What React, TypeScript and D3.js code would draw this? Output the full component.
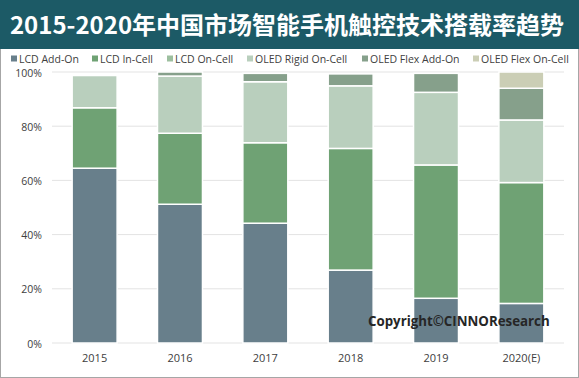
import React from "react";
import * as d3 from "d3";

const title = "2015-2020年中国市场智能手机触控技术搭载率趋势";
const years = ["2015", "2016", "2017", "2018", "2019", "2020(E)"];
const seriesNames = ["LCD Add-On", "LCD In-Cell", "LCD On-Cell", "OLED Rigid On-Cell", "OLED Flex Add-On", "OLED Flex On-Cell"];
const lcdAddOn = [64.5, 51.2, 44.2, 26.9, 16.5, 14.6];
const lcdInCell = [22.3, 26.2, 29.7, 44.9, 49.2, 44.6];
const lcdOnCell = [0, 0, 0, 0, 0, 0];
const oledRigid = [11.9, 21.1, 22.5, 23.1, 26.8, 23.1];
const oledFlexAddOn = [0, 1.5, 3.1, 4.4, 7.0, 11.7];
const oledFlexOnCell = [0, 0, 0, 0, 0, 6.0];
const yTicks = [0, 20, 40, 60, 80, 100];
const colors = ["#687f8b", "#6fa274", "#9dbf9f", "#b9cfbd", "#86a08b", "#cbceb5"];
const legendX = [11, 92, 167, 247, 362, 473];

export default function App() {
  const W = 579, H = 378;
  const seriesData = [lcdAddOn, lcdInCell, lcdOnCell, oledRigid, oledFlexAddOn, oledFlexOnCell];
  const table = years.map((y, i) => {
    const row: any = { year: y };
    seriesNames.forEach((s, k) => (row[s] = seriesData[k][i]));
    return row;
  });
  const stacked = d3.stack().keys(seriesNames)(table);
  const x = d3.scaleBand().domain(years).range([52, 564]).paddingInner(0.473).paddingOuter(0.236);
  const y = d3.scaleLinear().domain([0, 100]).range([343, 72]);
  return (
    <svg width={W} height={H} style={{ position: "absolute", left: 0, top: 0, display: "block" }}>
      <rect x={0} y={0} width={W} height={H} fill="#ffffff" />
      <rect x={0.5} y={0.5} width={W - 1} height={H - 1} fill="none" stroke="#a6a6a6" />
      <rect x={0} y={0} width={W} height={49} fill="#1c5a66" />
      <text x={287} y={34} textAnchor="middle" fill="#ffffff" fontFamily="'Noto Sans CJK SC', sans-serif" fontWeight="bold" fontSize={24}>{title}</text>
      {seriesNames.map((s, k) => (
        <g key={s}>
          <rect x={legendX[k]} y={55.5} width={6} height={6} fill={colors[k]} />
          <text x={legendX[k] + 8} y={62.5} fontFamily="'Open Sans', sans-serif" fontSize={10.5} fill="#404040">{s}</text>
        </g>
      ))}
      {yTicks.map((t) => (
        <g key={t}>
          <line x1={52} x2={564} y1={y(t)} y2={y(t)} stroke="#e3e3e3" strokeWidth={1} />
          <text x={42} y={y(t) + 4.5} textAnchor="end" fontFamily="'Open Sans', sans-serif" fontSize={10.5} fill="#404040">{t + "%"}</text>
        </g>
      ))}
      {stacked.map((layer, k) => (
        <g key={layer.key} fill={colors[k]}>
          {layer.map((d: any, i: number) =>
            d[1] - d[0] > 0 ? (
              <rect key={i} x={x(years[i])} y={y(d[1])} width={x.bandwidth()} height={y(d[0]) - y(d[1])} stroke="#ffffff" strokeWidth={1.5} />
            ) : null
          )}
        </g>
      ))}
      {years.map((yr) => (
        <text key={yr} x={(x(yr) as number) + x.bandwidth() / 2} y={362} textAnchor="middle" fontFamily="'Open Sans', sans-serif" fontSize={11} fill="#404040">{yr}</text>
      ))}
      <text x={368} y={326} fontFamily="'Open Sans', sans-serif" fontWeight="bold" fontSize={13.3} fill="#262626">Copyright©CINNOResearch</text>
    </svg>
  );
}
